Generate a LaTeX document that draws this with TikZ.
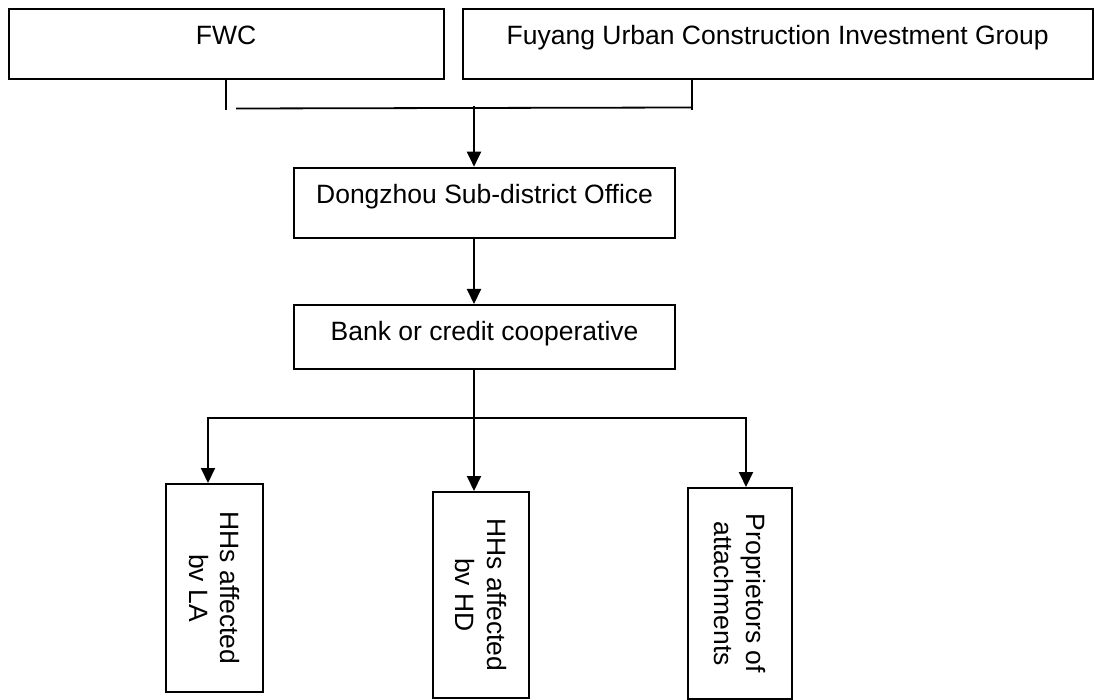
\documentclass[tikz,border=0pt]{standalone}
\usepackage{fontspec}
\setmainfont{Liberation Sans}
\usetikzlibrary{arrows.meta}
\begin{document}
\begin{tikzpicture}[x=1pt,y=-1pt,
  box/.style={draw, line width=2pt, inner sep=0pt, font=\fontsize{26.5}{31.8}\selectfont},
  conn/.style={line width=1.8pt},
  arr/.style={line width=2pt, -{Triangle[length=15pt,width=14pt]}}]
\useasboundingbox (0,0) rectangle (1094,700);
% top boxes
\node[box, anchor=north west, minimum width=435, minimum height=70, text height=35pt, text depth=35pt] (fwc) at (7.5,8.5) {FWC};
\node[box, anchor=north west, minimum width=630, minimum height=70, text height=35pt, text depth=35pt] (fuy) at (461.7,8.5) {Fuyang Urban Construction Investment Group};
% middle boxes
\node[box, anchor=north west, minimum width=380.5, minimum height=70, text height=36pt, text depth=34pt] (dz) at (293.3,166.7) {Dongzhou Sub-district Office};
\node[box, anchor=north west, minimum width=380.5, minimum height=64, text height=35pt, text depth=29pt] (bank) at (293.3,304) {Bank or credit cooperative};
% bottom boxes (rotated)
\node[box, rotate=-90, minimum width=208, minimum height=97, align=center] (b1) at (214.5,588) {HHs affected\\bv LA};
\node[box, rotate=-90, minimum width=206, minimum height=96, align=center] (b2) at (481,595) {HHs affected\\bv HD};
\node[box, rotate=-90, minimum width=211, minimum height=104, align=center] (b3) at (740,593.5) {Proprietors of\\attachments};
% junction coordinates
\coordinate (jl) at (226,110);
\coordinate (hl) at (236,108.5);
\coordinate (hr) at (692,107.5);
\coordinate (jr) at (692,110);
\coordinate (ja) at (474,106);
\coordinate (hb) at (208,418);
\coordinate (hc) at (746,418);
% top connectors
\draw[conn] (fwc.south -| jl) -- (jl);
\draw[conn] (fuy.south -| jr) -- (jr);
\draw[conn] (hl) -- (hr);
\draw[arr] (ja) -- (ja |- dz.north);
\draw[arr] (dz.south -| ja) -- (bank.north -| ja);
% bottom connectors
\draw[arr] (bank.south -| ja) -- (b2.west -| ja);
\draw[arr] (ja |- hb) -- (hb) -- (hb |- b1.west);
\draw[arr] (ja |- hc) -- (hc) -- (hc |- b3.west);
\end{tikzpicture}
\end{document}
